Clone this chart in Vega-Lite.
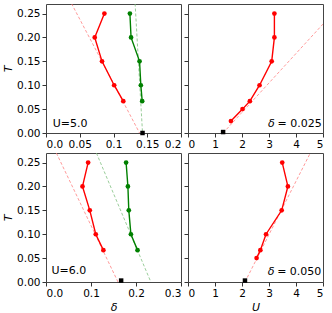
{
  "$schema": "https://vega.github.io/schema/vega-lite/v6.json",
  "padding": {"left": 2, "top": 3, "right": 8, "bottom": 2},
  "columns": 2,
  "spacing": {"row": 20, "column": 7},
  "bounds": "flush",
  "align": "each",
  "datasets": {
    "tl": [
      {"series": "red", "kind": "data", "i": 1, "x": 0.0865, "T": 0.25},
      {"series": "red", "kind": "data", "i": 2, "x": 0.0722, "T": 0.2},
      {"series": "red", "kind": "data", "i": 3, "x": 0.083, "T": 0.15},
      {"series": "red", "kind": "data", "i": 4, "x": 0.101, "T": 0.1},
      {"series": "red", "kind": "data", "i": 5, "x": 0.1145, "T": 0.0667},
      {"series": "green", "kind": "data", "i": 1, "x": 0.1243, "T": 0.25},
      {"series": "green", "kind": "data", "i": 2, "x": 0.126, "T": 0.2},
      {"series": "green", "kind": "data", "i": 3, "x": 0.1386, "T": 0.15},
      {"series": "green", "kind": "data", "i": 4, "x": 0.1405, "T": 0.1},
      {"series": "green", "kind": "data", "i": 5, "x": 0.1425, "T": 0.0667},
      {"series": "red", "kind": "dash", "i": 1, "x": 0.0378, "T": 0.271},
      {"series": "red", "kind": "dash", "i": 2, "x": 0.1386, "T": 0.0},
      {"series": "green", "kind": "dash", "i": 1, "x": 0.132, "T": 0.271},
      {"series": "green", "kind": "dash", "i": 2, "x": 0.143, "T": 0.0},
      {"series": "black", "kind": "limit", "i": 1, "x": 0.143, "T": 0.0}
    ],
    "tr": [
      {"series": "red", "kind": "data", "i": 1, "x": 3.2, "T": 0.25},
      {"series": "red", "kind": "data", "i": 2, "x": 3.2, "T": 0.2},
      {"series": "red", "kind": "data", "i": 3, "x": 3.1, "T": 0.15},
      {"series": "red", "kind": "data", "i": 4, "x": 2.65, "T": 0.1},
      {"series": "red", "kind": "data", "i": 5, "x": 2.29, "T": 0.0667},
      {"series": "red", "kind": "data", "i": 6, "x": 2.02, "T": 0.05},
      {"series": "red", "kind": "data", "i": 7, "x": 1.59, "T": 0.025},
      {"series": "red", "kind": "dash", "i": 1, "x": 1.3, "T": 0.0},
      {"series": "red", "kind": "dash", "i": 2, "x": 5.0, "T": 0.228},
      {"series": "black", "kind": "limit", "i": 1, "x": 1.3, "T": 0.002}
    ],
    "bl": [
      {"series": "red", "kind": "data", "i": 1, "x": 0.0936, "T": 0.25},
      {"series": "red", "kind": "data", "i": 2, "x": 0.0811, "T": 0.2},
      {"series": "red", "kind": "data", "i": 3, "x": 0.0973, "T": 0.15},
      {"series": "red", "kind": "data", "i": 4, "x": 0.1106, "T": 0.1},
      {"series": "red", "kind": "data", "i": 5, "x": 0.1275, "T": 0.0667},
      {"series": "green", "kind": "data", "i": 1, "x": 0.178, "T": 0.25},
      {"series": "green", "kind": "data", "i": 2, "x": 0.182, "T": 0.2},
      {"series": "green", "kind": "data", "i": 3, "x": 0.184, "T": 0.15},
      {"series": "green", "kind": "data", "i": 4, "x": 0.1887, "T": 0.1},
      {"series": "green", "kind": "data", "i": 5, "x": 0.2034, "T": 0.0667},
      {"series": "red", "kind": "dash", "i": 1, "x": 0.023, "T": 0.27},
      {"series": "red", "kind": "dash", "i": 2, "x": 0.16, "T": 0.0},
      {"series": "green", "kind": "dash", "i": 1, "x": 0.112, "T": 0.27},
      {"series": "green", "kind": "dash", "i": 2, "x": 0.233, "T": 0.0},
      {"series": "black", "kind": "limit", "i": 1, "x": 0.167, "T": 0.003}
    ],
    "br": [
      {"series": "red", "kind": "data", "i": 1, "x": 3.49, "T": 0.25},
      {"series": "red", "kind": "data", "i": 2, "x": 3.7, "T": 0.2},
      {"series": "red", "kind": "data", "i": 3, "x": 3.47, "T": 0.15},
      {"series": "red", "kind": "data", "i": 4, "x": 2.89, "T": 0.1},
      {"series": "red", "kind": "data", "i": 5, "x": 2.68, "T": 0.0667},
      {"series": "red", "kind": "data", "i": 6, "x": 2.54, "T": 0.05},
      {"series": "red", "kind": "dash", "i": 1, "x": 2.11, "T": 0.0},
      {"series": "red", "kind": "dash", "i": 2, "x": 4.53, "T": 0.27},
      {"series": "black", "kind": "limit", "i": 1, "x": 2.11, "T": 0.003}
    ]
  },
  "concat": [
    {
      "width": 135, "height": 129,
      "data": {"name": "tl"},
      "encoding": {
        "x": {"field": "x", "type": "quantitative", "scale": {"domain": [0, 0.2], "nice": false, "zero": false},
              "axis": {"values": [0, 0.05, 0.1, 0.15, 0.2], "labelExpr": "datum.value == 0 ? '0.0' : format(datum.value, '.2~f')", "title": null}},
        "y": {"field": "T", "type": "quantitative", "scale": {"domain": [0, 0.27], "nice": false},
              "axis": {"values": [0, 0.05, 0.1, 0.15, 0.2, 0.25], "format": ".2f", "title": "T"}}
      },
      "layer": [
        {"transform": [{"filter": "datum.kind == 'dash' && datum.series == 'red'"}], "mark": {"type": "line", "color": "#ff8080", "strokeWidth": 0.8, "strokeDash": [3, 2], "clip": true}, "encoding": {"order": {"field": "i", "type": "quantitative"}}},
        {"transform": [{"filter": "datum.kind == 'dash' && datum.series == 'green'"}], "mark": {"type": "line", "color": "#80c080", "strokeWidth": 0.8, "strokeDash": [3, 2], "clip": true}, "encoding": {"order": {"field": "i", "type": "quantitative"}}},
        {"transform": [{"filter": "datum.kind == 'data' && datum.series == 'red'"}], "mark": {"type": "line", "color": "#ff0000", "strokeWidth": 1.4, "point": {"filled": true, "size": 22, "color": "#ff0000"}}, "encoding": {"order": {"field": "i", "type": "quantitative"}}},
        {"transform": [{"filter": "datum.kind == 'data' && datum.series == 'green'"}], "mark": {"type": "line", "color": "#008000", "strokeWidth": 1.4, "point": {"filled": true, "size": 22, "color": "#008000"}}, "encoding": {"order": {"field": "i", "type": "quantitative"}}},
        {"transform": [{"filter": "datum.kind == 'limit'"}], "mark": {"type": "square", "color": "#000000", "filled": true, "size": 20, "opacity": 1}},
        {"transform": [{"filter": "datum.kind == 'limit'"}], "mark": {"type": "text", "align": "left", "baseline": "alphabetic", "fontSize": 11, "color": "#000"},
         "encoding": {"x": {"datum": 0.01, "type": "quantitative"}, "y": {"datum": 0.013, "type": "quantitative"}, "text": {"value": "U=5.0"}}}
      ]
    },
    {
      "width": 135, "height": 129,
      "data": {"name": "tr"},
      "encoding": {
        "x": {"field": "x", "type": "quantitative", "scale": {"domain": [0, 5], "nice": false},
              "axis": {"values": [0, 1, 2, 3, 4, 5], "title": null}},
        "y": {"field": "T", "type": "quantitative", "scale": {"domain": [0, 0.27], "nice": false},
              "axis": {"values": [0, 0.05, 0.1, 0.15, 0.2, 0.25], "labels": false, "title": null}}
      },
      "layer": [
        {"transform": [{"filter": "datum.kind == 'dash'"}], "mark": {"type": "line", "color": "#ff8080", "strokeWidth": 0.8, "strokeDash": [3, 2], "clip": true}, "encoding": {"order": {"field": "i", "type": "quantitative"}}},
        {"transform": [{"filter": "datum.kind == 'data'"}], "mark": {"type": "line", "color": "#ff0000", "strokeWidth": 1.4, "point": {"filled": true, "size": 22, "color": "#ff0000"}}, "encoding": {"order": {"field": "i", "type": "quantitative"}}},
        {"transform": [{"filter": "datum.kind == 'limit'"}], "mark": {"type": "square", "color": "#000000", "filled": true, "size": 20, "opacity": 1}},
        {"transform": [{"filter": "datum.kind == 'limit'"}], "mark": {"type": "text", "align": "right", "baseline": "alphabetic", "fontSize": 11, "color": "#000"},
         "encoding": {"x": {"datum": 4.95, "type": "quantitative"}, "y": {"datum": 0.013, "type": "quantitative"}, "text": {"value": "= 0.025"}}},
        {"transform": [{"filter": "datum.kind == 'limit'"}], "mark": {"type": "text", "align": "right", "baseline": "alphabetic", "fontSize": 11, "fontStyle": "italic", "color": "#000", "dx": -47},
         "encoding": {"x": {"datum": 4.95, "type": "quantitative"}, "y": {"datum": 0.013, "type": "quantitative"}, "text": {"value": "δ"}}}
      ]
    },
    {
      "width": 135, "height": 129,
      "data": {"name": "bl"},
      "encoding": {
        "x": {"field": "x", "type": "quantitative", "scale": {"domain": [0, 0.3], "nice": false},
              "axis": {"values": [0, 0.1, 0.2, 0.3], "labelExpr": "format(datum.value, '.1f')", "title": "δ"}},
        "y": {"field": "T", "type": "quantitative", "scale": {"domain": [0, 0.27], "nice": false},
              "axis": {"values": [0, 0.05, 0.1, 0.15, 0.2, 0.25], "format": ".2f", "title": "T"}}
      },
      "layer": [
        {"transform": [{"filter": "datum.kind == 'dash' && datum.series == 'red'"}], "mark": {"type": "line", "color": "#ff8080", "strokeWidth": 0.8, "strokeDash": [3, 2], "clip": true}, "encoding": {"order": {"field": "i", "type": "quantitative"}}},
        {"transform": [{"filter": "datum.kind == 'dash' && datum.series == 'green'"}], "mark": {"type": "line", "color": "#80c080", "strokeWidth": 0.8, "strokeDash": [3, 2], "clip": true}, "encoding": {"order": {"field": "i", "type": "quantitative"}}},
        {"transform": [{"filter": "datum.kind == 'data' && datum.series == 'red'"}], "mark": {"type": "line", "color": "#ff0000", "strokeWidth": 1.4, "point": {"filled": true, "size": 22, "color": "#ff0000"}}, "encoding": {"order": {"field": "i", "type": "quantitative"}}},
        {"transform": [{"filter": "datum.kind == 'data' && datum.series == 'green'"}], "mark": {"type": "line", "color": "#008000", "strokeWidth": 1.4, "point": {"filled": true, "size": 22, "color": "#008000"}}, "encoding": {"order": {"field": "i", "type": "quantitative"}}},
        {"transform": [{"filter": "datum.kind == 'limit'"}], "mark": {"type": "square", "color": "#000000", "filled": true, "size": 20, "opacity": 1}},
        {"transform": [{"filter": "datum.kind == 'limit'"}], "mark": {"type": "text", "align": "left", "baseline": "alphabetic", "fontSize": 11, "color": "#000"},
         "encoding": {"x": {"datum": 0.012, "type": "quantitative"}, "y": {"datum": 0.016, "type": "quantitative"}, "text": {"value": "U=6.0"}}}
      ]
    },
    {
      "width": 135, "height": 129,
      "data": {"name": "br"},
      "encoding": {
        "x": {"field": "x", "type": "quantitative", "scale": {"domain": [0, 5], "nice": false},
              "axis": {"values": [0, 1, 2, 3, 4, 5], "title": "U"}},
        "y": {"field": "T", "type": "quantitative", "scale": {"domain": [0, 0.27], "nice": false},
              "axis": {"values": [0, 0.05, 0.1, 0.15, 0.2, 0.25], "labels": false, "title": null}}
      },
      "layer": [
        {"transform": [{"filter": "datum.kind == 'dash'"}], "mark": {"type": "line", "color": "#ff8080", "strokeWidth": 0.8, "strokeDash": [3, 2], "clip": true}, "encoding": {"order": {"field": "i", "type": "quantitative"}}},
        {"transform": [{"filter": "datum.kind == 'data'"}], "mark": {"type": "line", "color": "#ff0000", "strokeWidth": 1.4, "point": {"filled": true, "size": 22, "color": "#ff0000"}}, "encoding": {"order": {"field": "i", "type": "quantitative"}}},
        {"transform": [{"filter": "datum.kind == 'limit'"}], "mark": {"type": "square", "color": "#000000", "filled": true, "size": 20, "opacity": 1}},
        {"transform": [{"filter": "datum.kind == 'limit'"}], "mark": {"type": "text", "align": "right", "baseline": "alphabetic", "fontSize": 11, "color": "#000"},
         "encoding": {"x": {"datum": 4.94, "type": "quantitative"}, "y": {"datum": 0.014, "type": "quantitative"}, "text": {"value": "= 0.050"}}},
        {"transform": [{"filter": "datum.kind == 'limit'"}], "mark": {"type": "text", "align": "right", "baseline": "alphabetic", "fontSize": 11, "fontStyle": "italic", "color": "#000", "dx": -47},
         "encoding": {"x": {"datum": 4.94, "type": "quantitative"}, "y": {"datum": 0.014, "type": "quantitative"}, "text": {"value": "δ"}}}
      ]
    }
  ],
  "config": {
    "font": "DejaVu Sans",
    "view": {"stroke": "#444", "strokeWidth": 1},
    "axis": {"domain": false, "grid": false, "tickSize": 4, "tickColor": "#333", "labelFontSize": 10.5, "labelColor": "#000", "labelPadding": 2,
             "titleFontSize": 11, "titleFontStyle": "italic", "titleFontWeight": "normal", "titleColor": "#000", "titlePadding": 3}
  }
}
